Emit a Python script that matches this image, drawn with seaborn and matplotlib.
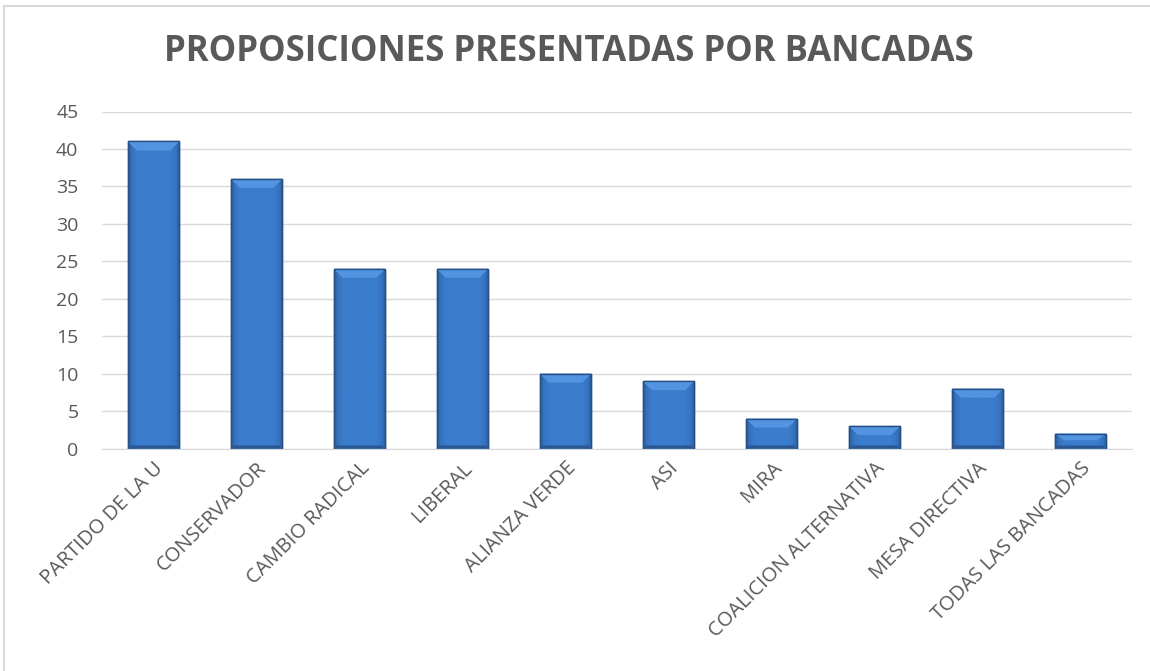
import numpy as np
import pandas as pd
import matplotlib.pyplot as plt
import seaborn as sns
from matplotlib.patches import Rectangle, Polygon
from matplotlib.colors import LinearSegmentedColormap

bancadas = ['PARTIDO DE LA U', 'CONSERVADOR', 'CAMBIO RADICAL', 'LIBERAL',
            'ALIANZA VERDE', 'ASI', 'MIRA', 'COALICION ALTERNATIVA',
            'MESA DIRECTIVA', 'TODAS LAS BANCADAS']
proposiciones = [41, 36, 24, 24, 10, 9, 4, 3, 8, 2]
y_ticks = [0, 5, 10, 15, 20, 25, 30, 35, 40, 45]

df = pd.DataFrame({'Bancada': bancadas, 'Proposiciones': proposiciones})

sns.set_style('white')
plt.rcParams['font.family'] = ['Open Sans', 'DejaVu Sans']
gray = '#595959'

fig = plt.figure(figsize=(11.5, 6.71), dpi=100)
ax = fig.add_axes([102 / 1150, 1 - 448.5 / 671, 1030 / 1150, 337 / 671])

sns.barplot(data=df, x='Bancada', y='Proposiciones', color='#3b7dcd',
            edgecolor='#24528a', linewidth=1.0, width=0.5, saturation=1, ax=ax)

# bevel look: soft side shading + lighter top facet
shade = LinearSegmentedColormap.from_list(
    'bar', [(0, '#2d5c96'), (0.08, '#3674c2'), (0.2, '#3b7dcd'),
            (0.8, '#3b7dcd'), (0.92, '#3674c2'), (1, '#2d5c96')])
grad = np.linspace(0, 1, 256).reshape(1, -1)
px_x = 1 / 103.0
px_y = 45 / 337.0
for p in list(ax.patches):
    x0, y0, w, h = p.get_x(), p.get_y(), p.get_width(), p.get_height()
    im = ax.imshow(grad, extent=[x0, x0 + w, y0, y0 + h], aspect='auto',
                   cmap=shade, zorder=p.get_zorder() + 0.1)
    im.set_clip_path(p)
    d = min(9 * px_y, h * 0.45)
    dx = 9 * px_x
    top = Polygon([(x0, y0 + h), (x0 + w, y0 + h), (x0 + w - dx, y0 + h - d),
                   (x0 + dx, y0 + h - d)], closed=True, facecolor='#5294e0',
                  edgecolor='none', zorder=p.get_zorder() + 0.2)
    ax.add_patch(top)
    db = min(3 * px_y, h * 0.2)
    bottom = Polygon([(x0, y0), (x0 + w, y0), (x0 + w - 3 * px_x, y0 + db),
                      (x0 + 3 * px_x, y0 + db)], closed=True,
                     facecolor='#2a5791', edgecolor='none',
                     zorder=p.get_zorder() + 0.2)
    ax.add_patch(bottom)
    ax.add_patch(Rectangle((x0, y0), w, h, fill=False, edgecolor='#264f85',
                           linewidth=1.0, zorder=p.get_zorder() + 0.3))

ax.set_ylim(0, 45)
ax.set_xlim(-0.5, len(bancadas) - 0.5)
ax.set_yticks(y_ticks)
ax.set_yticklabels([str(t) for t in y_ticks], fontsize=14, color=gray)
ax.yaxis.grid(True, color='#d9d9d9', linewidth=1)
ax.set_axisbelow(True)
ax.set_xlabel('')
ax.set_ylabel('')
ax.tick_params(axis='y', length=0, pad=17)
ax.tick_params(axis='x', length=0, pad=7)
ax.set_xticks(range(len(bancadas)))
ax.set_xticklabels(bancadas, rotation=45, ha='right', rotation_mode='anchor',
                   fontsize=14.5, color=gray)
for s in ['top', 'right', 'left']:
    ax.spines[s].set_visible(False)
ax.spines['bottom'].set_color('#d9d9d9')

fig.text(569 / 1150, 1 - 52 / 671, 'PROPOSICIONES PRESENTADAS POR BANCADAS',
         ha='center', va='center', fontsize=25, fontweight='bold', color=gray)

fig.patches.append(Rectangle((4 / 1150, -0.01), 1.1, 1 - 6 / 671 + 0.01,
                             transform=fig.transFigure, fill=False,
                             edgecolor='#d9d9d9', linewidth=1.5))

fig.savefig('out.png', dpi=100)
